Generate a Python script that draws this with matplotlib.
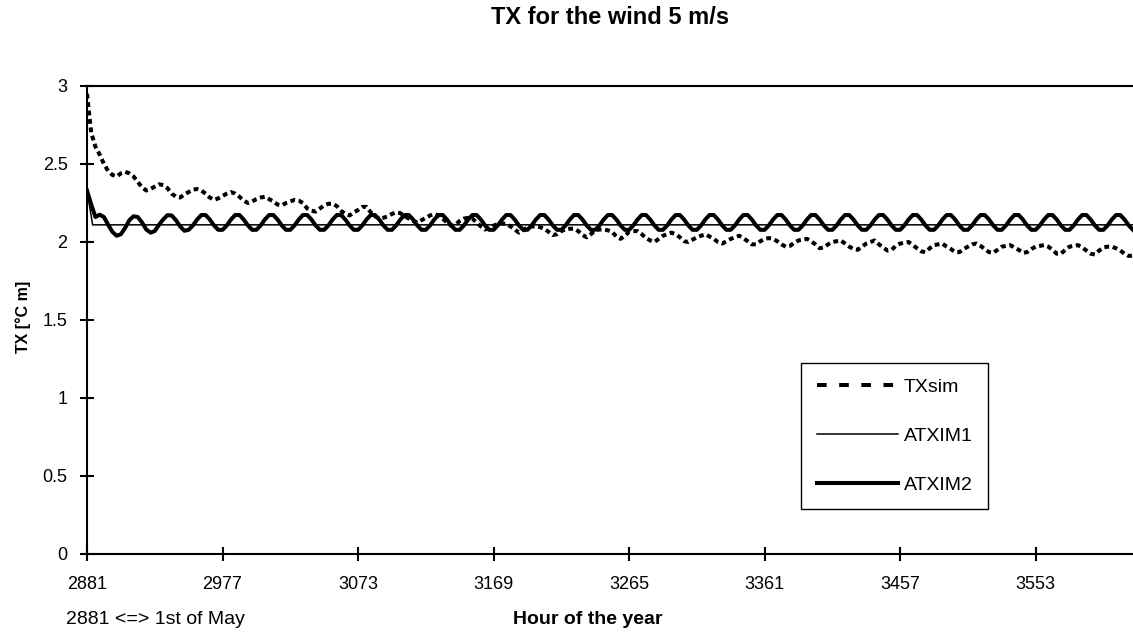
"""
plot.py
-------
TX for the wind 5 m/s: simulated TX compared with the two
approximations ATXIM1 and ATXIM2, hour 2881 (1st of May) onwards.
Saved as out.png.
"""

import numpy as np
import matplotlib.pyplot as plt
from matplotlib.lines import Line2D

# ──────────────────────────────────────────────
# Configuration
# ──────────────────────────────────────────────
OUTPUT_FILE = "out.png"
FIG_W, FIG_H, DPI = 11.33, 6.36, 100
FONT = ["Liberation Sans", "DejaVu Sans"]

# ──────────────────────────────────────────────
# Data (one value every 3 hours)
# ──────────────────────────────────────────────
START_HOUR = 2881
STEP_HOURS = 3
X_TICKS = [2881, 2977, 3073, 3169, 3265, 3361, 3457, 3553]
Y_TICKS = [0, 0.5, 1, 1.5, 2, 2.5, 3]
Y_TICK_LABELS = ["0", "0.5", "1", "1.5", "2", "2.5", "3"]

# one row per day, values at hour offsets 0, 3, 6, ..., 21
txsim_days = [
    [2.95, 2.70, 2.61, 2.56, 2.50, 2.455, 2.43, 2.42],
    [2.44, 2.45, 2.44, 2.42, 2.385, 2.35, 2.33, 2.34],
    [2.355, 2.37, 2.365, 2.345, 2.31, 2.29, 2.285, 2.305],
    [2.32, 2.335, 2.34, 2.33, 2.31, 2.285, 2.27, 2.28],
    [2.295, 2.31, 2.32, 2.31, 2.29, 2.265, 2.25, 2.26],
    [2.275, 2.285, 2.29, 2.275, 2.26, 2.24, 2.235, 2.25],
    [2.26, 2.27, 2.265, 2.25, 2.215, 2.20, 2.195, 2.215],
    [2.235, 2.245, 2.245, 2.23, 2.20, 2.18, 2.17, 2.19],
    [2.205, 2.225, 2.225, 2.19, 2.165, 2.15, 2.155, 2.165],
    [2.18, 2.19, 2.185, 2.165, 2.15, 2.135, 2.125, 2.14],
    [2.155, 2.17, 2.18, 2.17, 2.15, 2.125, 2.105, 2.11],
    [2.135, 2.15, 2.155, 2.15, 2.125, 2.10, 2.08, 2.09],
    [2.105, 2.115, 2.12, 2.115, 2.10, 2.08, 2.06, 2.075],
    [2.095, 2.10, 2.10, 2.095, 2.085, 2.065, 2.045, 2.05],
    [2.07, 2.08, 2.085, 2.085, 2.07, 2.045, 2.03, 2.05],
    [2.075, 2.08, 2.08, 2.075, 2.065, 2.035, 2.02, 2.04],
    [2.065, 2.07, 2.07, 2.05, 2.025, 2.01, 2.00, 2.02],
    [2.04, 2.05, 2.06, 2.05, 2.03, 2.005, 2.00, 2.015],
    [2.03, 2.04, 2.05, 2.035, 2.02, 2.00, 1.99, 2.005],
    [2.02, 2.03, 2.04, 2.025, 2.005, 1.985, 1.985, 2.005],
    [2.02, 2.025, 2.02, 2.005, 1.985, 1.97, 1.975, 1.995],
    [2.01, 2.015, 2.02, 2.005, 1.985, 1.96, 1.965, 1.985],
    [2.00, 2.005, 2.01, 1.99, 1.97, 1.955, 1.95, 1.97],
    [1.99, 2.00, 2.01, 1.985, 1.965, 1.945, 1.95, 1.975],
    [1.99, 1.995, 2.00, 1.98, 1.96, 1.94, 1.935, 1.96],
    [1.98, 1.985, 1.99, 1.97, 1.955, 1.935, 1.935, 1.955],
    [1.97, 1.985, 1.99, 1.975, 1.955, 1.935, 1.93, 1.95],
    [1.97, 1.975, 1.98, 1.965, 1.95, 1.93, 1.935, 1.955],
    [1.97, 1.975, 1.98, 1.97, 1.95, 1.925, 1.925, 1.95],
    [1.97, 1.975, 1.98, 1.965, 1.945, 1.925, 1.92, 1.945],
    [1.965, 1.97, 1.97, 1.96, 1.945, 1.925, 1.91, 1.915],
]

atxim2_days = [
    [2.33, 2.24, 2.16, 2.175, 2.16, 2.11, 2.065, 2.04],
    [2.05, 2.09, 2.14, 2.165, 2.16, 2.125, 2.08, 2.06],
    [2.07, 2.11, 2.145, 2.172, 2.17, 2.14, 2.10, 2.072],
] + [[2.078, 2.106, 2.144, 2.173, 2.173, 2.144, 2.106, 2.078]] * 28

# ATXIM1 drops right away and then stays constant
atxim1_hours = [2881, 2885, 3622]
atxim1_values = [2.33, 2.11, 2.11]


def main():
    plt.rcParams["font.family"] = FONT

    txsim = np.ravel(txsim_days)
    atxim2 = np.ravel(atxim2_days)
    hours = START_HOUR + STEP_HOURS * np.arange(len(txsim))

    fig = plt.figure(figsize=(FIG_W, FIG_H), dpi=DPI)
    ax = fig.add_axes([87 / 1133, 1 - 554 / 636, 1 - 87 / 1133, (554 - 86) / 636])

    ax.plot(hours, txsim, color="black", linewidth=2.9,
            dashes=(1.2, 0.9), solid_capstyle="butt", dash_capstyle="butt")
    ax.plot(atxim1_hours, atxim1_values, color="black", linewidth=1.1)
    ax.plot(hours, atxim2, color="black", linewidth=2.9)

    ax.set_xlim(START_HOUR, hours[-1])
    ax.set_ylim(0, 3)
    ax.set_xticks(X_TICKS)
    ax.set_xticklabels([str(h) for h in X_TICKS])
    ax.set_yticks(Y_TICKS)
    ax.set_yticklabels(Y_TICK_LABELS)

    for side in ("left", "bottom", "top"):
        ax.spines[side].set_linewidth(1.5)
    ax.spines["right"].set_visible(False)
    ax.tick_params(direction="inout", length=10, width=1.5,
                   labelsize=13, colors="black")
    ax.tick_params(axis="y", pad=9)
    ax.tick_params(axis="x", pad=11)

    # legend, with longer dashes for TXsim as in the original
    handles = [
        Line2D([], [], color="black", linewidth=2.9, dashes=(2.4, 3.1),
               dash_capstyle="butt"),
        Line2D([], [], color="black", linewidth=1.1),
        Line2D([], [], color="black", linewidth=2.9),
    ]
    leg = ax.legend(handles, ["TXsim", "ATXIM1", "ATXIM2"],
                    loc="upper left", bbox_to_anchor=(801 / 1133, 1 - 363 / 636),
                    bbox_transform=fig.transFigure, fontsize=14,
                    frameon=True, fancybox=False, framealpha=1,
                    edgecolor="black", borderaxespad=0, borderpad=0.8,
                    handlelength=4.2, handletextpad=0.3, labelspacing=1.6)
    leg.get_frame().set_linewidth(1.0)

    fig.text(610 / 1133, 1 - 18 / 636, "TX for the wind 5 m/s",
             ha="center", va="center", fontsize=17, fontweight="bold")
    fig.text(23 / 1133, 1 - 317 / 636, "TX [°C m]", rotation=90,
             ha="center", va="center", fontsize=11.5, fontweight="bold")
    fig.text(588 / 1133, 1 - 620 / 636, "Hour of the year",
             ha="center", va="center", fontsize=14, fontweight="bold")
    fig.text(66 / 1133, 1 - 620 / 636, "2881 <=> 1st of May",
             ha="left", va="center", fontsize=14)

    fig.savefig(OUTPUT_FILE, dpi=DPI)


if __name__ == "__main__":
    main()
